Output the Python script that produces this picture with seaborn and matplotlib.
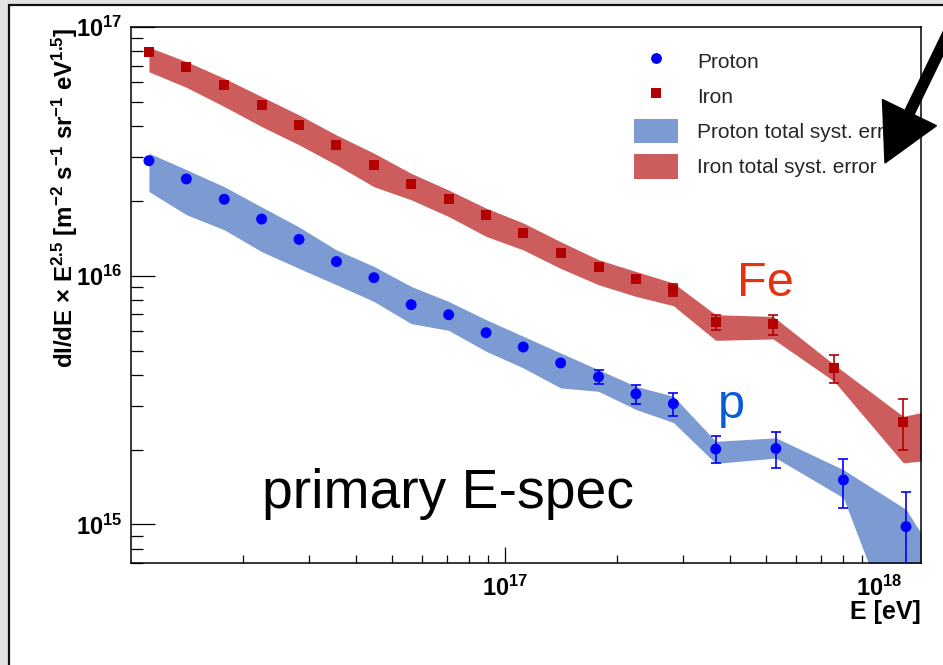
import numpy as np
import pandas as pd
import matplotlib
matplotlib.use("Agg")
import matplotlib.pyplot as plt
import seaborn as sns
from matplotlib.patches import Rectangle, FancyArrow, Patch
from matplotlib.lines import Line2D
from matplotlib.ticker import LogLocator, FuncFormatter, NullFormatter
from matplotlib.transforms import IdentityTransform

# ---------------- data ----------------
iron_E = [1.12e16, 1.41e16, 1.78e16, 2.24e16, 2.82e16, 3.55e16, 4.47e16, 5.62e16,
          7.08e16, 8.91e16, 1.12e17, 1.41e17, 1.78e17, 2.24e17, 2.82e17,
          3.66e17, 5.21e17, 7.59e17, 1.16e18]
iron_flux = [7.96e16, 6.93e16, 5.85e16, 4.86e16, 4.04e16, 3.36e16, 2.80e16, 2.34e16,
             2.04e16, 1.75e16, 1.48e16, 1.23e16, 1.08e16, 9.7e15, 8.79e15,
             6.54e15, 6.42e15, 4.27e15, 2.59e15]
iron_err_lo = [7.96e16, 6.93e16, 5.85e16, 4.86e16, 4.04e16, 3.36e16, 2.80e16, 2.34e16,
               2.04e16, 1.75e16, 1.48e16, 1.23e16, 1.08e16, 9.7e15, 8.26e15,
               6.07e15, 5.80e15, 3.71e15, 2.00e15]
iron_err_hi = [7.96e16, 6.93e16, 5.85e16, 4.86e16, 4.04e16, 3.36e16, 2.80e16, 2.34e16,
               2.04e16, 1.75e16, 1.48e16, 1.23e16, 1.08e16, 9.7e15, 9.29e15,
               6.97e15, 6.97e15, 4.82e15, 3.18e15]

proton_E = [1.12e16, 1.41e16, 1.78e16, 2.24e16, 2.82e16, 3.55e16, 4.47e16, 5.62e16,
            7.08e16, 8.91e16, 1.12e17, 1.41e17, 1.78e17, 2.24e17, 2.82e17,
            3.66e17, 5.30e17, 8.03e17, 1.18e18]
proton_flux = [2.90e16, 2.45e16, 2.03e16, 1.69e16, 1.40e16, 1.14e16, 9.82e15, 7.65e15,
               6.97e15, 5.90e15, 5.17e15, 4.46e15, 3.92e15, 3.35e15, 3.06e15,
               2.01e15, 2.02e15, 1.51e15, 9.8e14]
proton_err_lo = [2.90e16, 2.45e16, 2.03e16, 1.69e16, 1.40e16, 1.14e16, 9.82e15, 7.65e15,
                 6.97e15, 5.90e15, 5.17e15, 4.46e15, 3.68e15, 3.06e15, 2.74e15,
                 1.76e15, 1.68e15, 1.16e15, 6.5e14]
proton_err_hi = [2.90e16, 2.45e16, 2.03e16, 1.69e16, 1.40e16, 1.14e16, 9.82e15, 7.65e15,
                 6.97e15, 5.90e15, 5.17e15, 4.46e15, 4.17e15, 3.63e15, 3.38e15,
                 2.26e15, 2.35e15, 1.84e15, 1.35e15]

# systematic-error bands (edges at each energy, plus one point beyond the frame)
iron_band_E = iron_E + [1.58e18]
iron_band_hi = [8.29e16, 7.26e16, 6.22e16, 5.25e16, 4.43e16, 3.68e16, 3.11e16, 2.58e16,
                2.21e16, 1.87e16, 1.63e16, 1.37e16, 1.16e16, 1.04e16, 9.35e15,
                6.97e15, 6.86e15, 4.39e15, 2.72e15, 3.00e15]
iron_band_lo = [6.61e16, 5.72e16, 4.79e16, 3.98e16, 3.36e16, 2.79e16, 2.28e16, 2.02e16,
                1.73e16, 1.44e16, 1.27e16, 1.07e16, 9.20e15, 8.26e15, 7.58e15,
                5.50e15, 5.57e15, 3.76e15, 1.77e15, 1.85e15]
proton_band_E = proton_E + [1.58e18]
proton_band_hi = [3.11e16, 2.67e16, 2.28e16, 1.89e16, 1.57e16, 1.27e16, 1.09e16, 9.06e15,
                  7.88e15, 6.66e15, 5.71e15, 4.89e15, 4.19e15, 3.59e15, 3.28e15,
                  2.16e15, 2.23e15, 1.66e15, 1.15e15, 5.74e14]
proton_band_lo = [2.18e16, 1.76e16, 1.53e16, 1.25e16, 1.07e16, 9.20e15, 7.88e15, 6.42e15,
                  6.03e15, 4.97e15, 4.26e15, 3.54e15, 3.43e15, 2.90e15, 2.57e15,
                  1.76e15, 1.85e15, 1.28e15, 2.8e14, 1.0e14]

legend_labels = ["Proton", "Iron", "Proton total syst. error", "Iron total syst. error"]

# ---------------- style ----------------
sns.set_theme(style="white")
plt.rcParams["font.family"] = ["Liberation Sans", "DejaVu Sans"]
plt.rcParams["mathtext.fontset"] = "custom"
plt.rcParams["mathtext.rm"] = "Liberation Sans:bold"
plt.rcParams["mathtext.it"] = "Liberation Sans:bold"
plt.rcParams["mathtext.bf"] = "Liberation Sans:bold"
plt.rcParams["mathtext.sf"] = "Liberation Sans:bold"

C_PBAND = "#7b9bd2"
C_FBAND = "#cd5c5c"
C_P = "#0000ff"
C_F = "#b30000"

W, H = 943, 665
fig = plt.figure(figsize=(W / 100, H / 100), dpi=100, facecolor="#e3e3e3")
frame = Rectangle((9 / W, -0.1), 1.2, 1.1 - 5 / H, transform=fig.transFigure,
                  facecolor="white", edgecolor="#111111", linewidth=1.6, zorder=-10)
fig.add_artist(frame)

ax = fig.add_axes([131 / W, 1 - 563 / H, 790 / W, 536 / H])
ax.set_xscale("log")
ax.set_yscale("log")
ax.set_facecolor("white")

# bands
ax.fill_between(proton_band_E, proton_band_lo, proton_band_hi, color=C_PBAND, lw=0, zorder=1)
ax.fill_between(iron_band_E, iron_band_lo, iron_band_hi, color=C_FBAND, lw=0, zorder=1)

# error bars
pf = np.array(proton_flux)
ff = np.array(iron_flux)
ax.errorbar(proton_E, pf, yerr=[pf - np.array(proton_err_lo), np.array(proton_err_hi) - pf],
            fmt="none", ecolor=C_P, elinewidth=1.2, capsize=3.5, capthick=1.2, zorder=3)
ax.errorbar(iron_E, ff, yerr=[ff - np.array(iron_err_lo), np.array(iron_err_hi) - ff],
            fmt="none", ecolor=C_F, elinewidth=1.2, capsize=3.5, capthick=1.2, zorder=3)

# points
df_p = pd.DataFrame({"E": proton_E, "flux": proton_flux})
df_f = pd.DataFrame({"E": iron_E, "flux": iron_flux})
sns.scatterplot(data=df_p, x="E", y="flux", marker="o", s=62, color=C_P,
                edgecolor="none", linewidth=0, ax=ax, zorder=4, legend=False)
sns.scatterplot(data=df_f, x="E", y="flux", marker="s", s=52, color=C_F,
                edgecolor="none", linewidth=0, ax=ax, zorder=4, legend=False)

ax.set_xlim(1.003e16, 1.294e18)
ax.set_ylim(7.0e14, 1e17)

# ticks
fmt = FuncFormatter(lambda v, p: r"$10^{%d}$" % int(round(np.log10(v))))
for axis in (ax.xaxis, ax.yaxis):
    axis.set_major_locator(LogLocator(base=10, numticks=20))
    axis.set_minor_locator(LogLocator(base=10, subs=np.arange(2, 10), numticks=20))
    axis.set_major_formatter(fmt)
    axis.set_minor_formatter(NullFormatter())
ax.tick_params(axis="both", which="both", direction="in", top=False, right=False,
               bottom=True, left=True, colors="black", width=0.9)
ax.tick_params(axis="y", which="major", length=17, pad=6, labelsize=17)
ax.tick_params(axis="y", which="minor", length=8.6)
ax.tick_params(axis="x", which="major", length=11.5, pad=9, labelsize=17)
ax.tick_params(axis="x", which="minor", length=5.8)
for s in ax.spines.values():
    s.set_color("black")
    s.set_linewidth(1.1)

ax.set_ylabel(r"dI/dE $\times$ E$^{2.5}$ [m$^{-2}$ s$^{-1}$ sr$^{-1}$ eV$^{1.5}$]",
              fontsize=17.3, fontweight="bold", loc="top", color="black")
ax.yaxis.set_label_coords(-0.065, 1.0)
ax.set_xlabel("E [eV]", fontsize=18, fontweight="bold", loc="right", color="black")
ax.xaxis.set_label_coords(1.0, -0.069)

# legend
handles = [
    Line2D([], [], marker="o", ls="none", color=C_P, markersize=7.8, markeredgewidth=0),
    Line2D([], [], marker="s", ls="none", color=C_F, markersize=7.0, markeredgewidth=0),
    Patch(facecolor=C_PBAND, edgecolor="none"),
    Patch(facecolor=C_FBAND, edgecolor="none"),
]
ax.legend(handles, legend_labels, loc="upper left", bbox_to_anchor=(0.6367, 0.960),
          frameon=False, fontsize=15, handlelength=2.13, handleheight=1.45,
          labelspacing=0.5, handletextpad=0.9, borderpad=0, borderaxespad=0)

# annotations
fig.text(737 / W, 1 - 296 / H, "Fe", fontsize=35, color="#e6320e", ha="left", va="baseline")
fig.text(718 / W, 1 - 418 / H, "p", fontsize=35, color="#0a5bd6", ha="left", va="baseline")
fig.text(262 / W, 1 - 508 / H, "primary E-spec", fontsize=39.8, color="black",
         ha="left", va="baseline")

arrow = FancyArrow(952, H - 25, 885 - 952, (H - 163) - (H - 25), width=10, head_width=60,
                   head_length=56, length_includes_head=True, color="black",
                   transform=IdentityTransform(), zorder=20)
fig.add_artist(arrow)

fig.savefig("out.png", dpi=100, facecolor=fig.get_facecolor())
